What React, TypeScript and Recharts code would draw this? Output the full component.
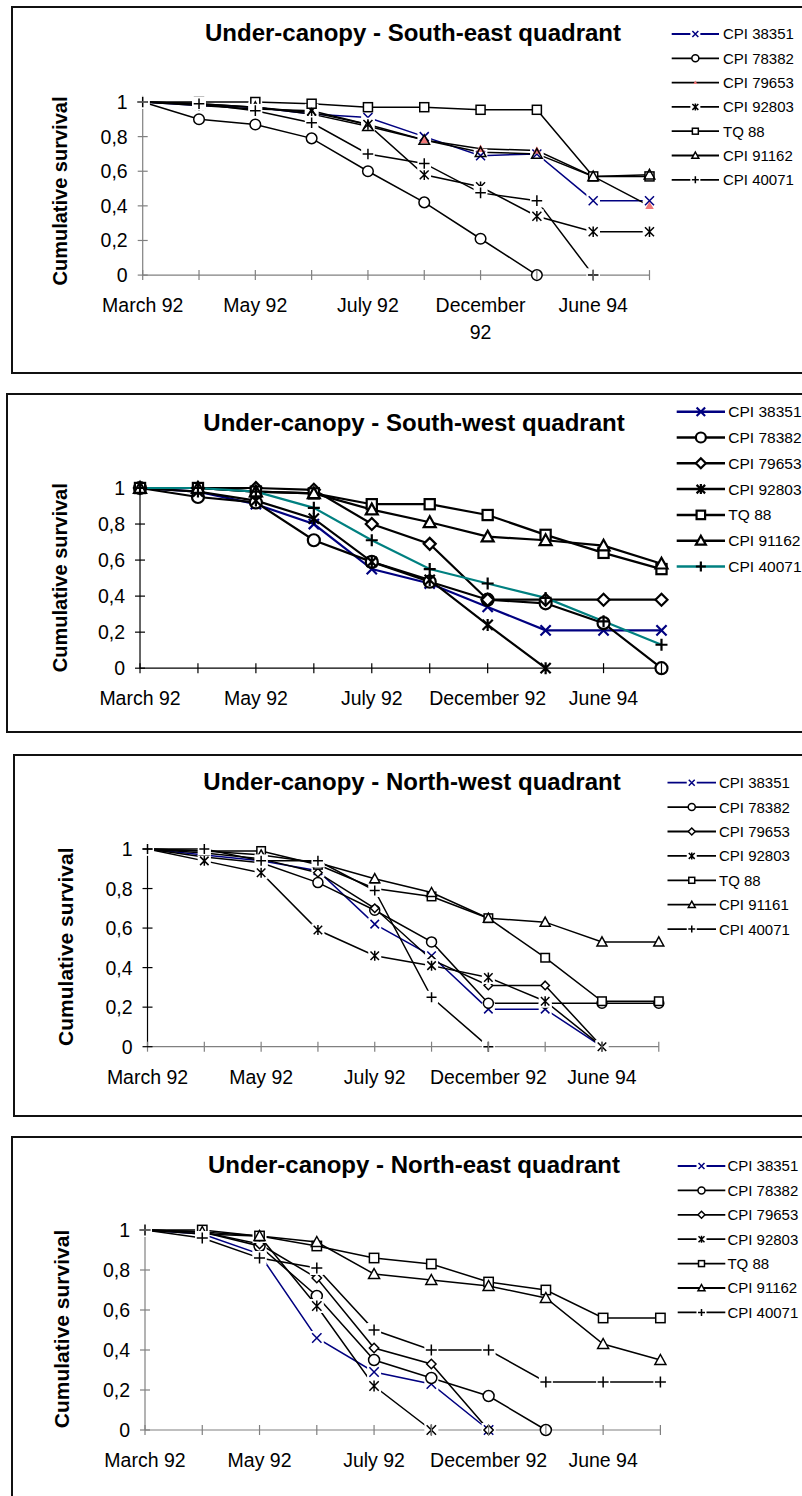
import React from "react";
import { LineChart, Line, XAxis, YAxis } from "recharts";

const FONT = '"Liberation Sans", Arial, Helvetica, sans-serif';

// Sampling dates (only every other one is labelled on the axis)
const periodLabels = ["March 92", "", "May 92", "", "July 92", "", "December 92", "", "June 94", ""];
const yTicks = [0, 0.2, 0.4, 0.6, 0.8, 1];

const seriesNames = ["CPI 38351", "CPI 78382", "CPI 79653", "CPI 92803", "TQ 88", "CPI 91162", "CPI 40071"];
const nwSeriesNames = ["CPI 38351", "CPI 78382", "CPI 79653", "CPI 92803", "TQ 88", "CPI 91161", "CPI 40071"];

// South-east quadrant
const seCpi38351 = [1, 0.98, 0.97, 0.93, 0.91, 0.8, 0.69, 0.7, 0.43, 0.43];
const seCpi78382 = [1, 0.9, 0.87, 0.79, 0.6, 0.42, 0.21, 0, null, null];
const seCpi79653 = [1, 0.99, 0.97, 0.94, 0.87, 0.78, 0.73, 0.72, 0.57, 0.4];
const seCpi92803 = [1, 0.98, 0.96, 0.95, 0.87, 0.58, 0.51, 0.34, 0.25, 0.25];
const seTq88 = [1, 1, 1, 0.99, 0.97, 0.97, 0.955, 0.955, 0.57, 0.57];
const seCpi91162 = [1, 0.99, 0.97, 0.93, 0.86, 0.78, 0.71, 0.7, 0.57, 0.58];
const seCpi40071 = [1, 0.99, 0.95, 0.88, 0.7, 0.645, 0.475, 0.43, 0, null];

// South-west quadrant
const swCpi38351 = [1, 0.98, 0.91, 0.8, 0.55, 0.47, 0.34, 0.21, 0.21, 0.21];
const swCpi78382 = [1, 0.95, 0.92, 0.71, 0.59, 0.48, 0.38, 0.36, 0.25, 0];
const swCpi79653 = [1, 1, 1, 0.99, 0.8, 0.69, 0.38, 0.38, 0.38, 0.38];
const swCpi92803 = [1, 0.98, 0.93, 0.83, 0.59, 0.49, 0.24, 0, null, null];
const swTq88 = [1, 1, 0.98, 0.97, 0.91, 0.91, 0.85, 0.74, 0.64, 0.55];
const swCpi91162 = [1, 1, 0.98, 0.97, 0.88, 0.81, 0.73, 0.71, 0.68, 0.58];
const swCpi40071 = [1, 1, 0.98, 0.89, 0.71, 0.55, 0.47, 0.39, 0.26, 0.13];

// North-west quadrant
const nwCpi38351 = [1, 0.97, 0.94, 0.89, 0.62, 0.46, 0.19, 0.19, 0, null];
const nwCpi78382 = [1, 0.96, 0.93, 0.83, 0.69, 0.53, 0.22, 0.22, 0.22, 0.22];
const nwCpi79653 = [1, 0.98, 0.95, 0.88, 0.7, 0.44, 0.31, 0.31, 0, null];
const nwCpi92803 = [1, 0.94, 0.88, 0.59, 0.46, 0.41, 0.35, 0.23, 0, null];
const nwTq88 = [1, 0.99, 0.99, 0.92, 0.8, 0.76, 0.65, 0.45, 0.23, 0.23];
const nwCpi91161 = [1, 0.99, 0.97, 0.93, 0.85, 0.78, 0.65, 0.63, 0.53, 0.53];
const nwCpi40071 = [1, 1, 0.94, 0.94, 0.79, 0.25, 0, null, null, null];

// North-east quadrant
const neCpi38351 = [1, 0.98, 0.88, 0.46, 0.29, 0.23, 0, null, null, null];
const neCpi78382 = [1, 0.99, 0.92, 0.67, 0.35, 0.26, 0.17, 0, null, null];
const neCpi79653 = [1, 0.99, 0.93, 0.76, 0.41, 0.33, 0, null, null, null];
const neCpi92803 = [1, 0.98, 0.97, 0.62, 0.22, 0, null, null, null, null];
const neTq88 = [1, 1, 0.97, 0.92, 0.86, 0.83, 0.74, 0.7, 0.56, 0.56];
const neCpi91162 = [1, 0.99, 0.97, 0.94, 0.78, 0.75, 0.72, 0.66, 0.43, 0.35];
const neCpi40071 = [1, 0.96, 0.86, 0.81, 0.5, 0.4, 0.4, 0.24, 0.24, 0.24];

type MarkerKind = "x" | "circle" | "diamond" | "star" | "square" | "triangle" | "plus" | "redtri";

interface SeriesStyle {
  stroke: string
  marker: MarkerKind
  markerColor: string
}

const NAVY = "#000080";
const TEAL = "#008080";
const SALMON = "#f07878";

const baseStyles: SeriesStyle[] = [
  { stroke: NAVY, marker: "x", markerColor: NAVY },
  { stroke: "#000", marker: "circle", markerColor: "#000" },
  { stroke: "#000", marker: "diamond", markerColor: "#000" },
  { stroke: "#000", marker: "star", markerColor: "#000" },
  { stroke: "#000", marker: "square", markerColor: "#000" },
  { stroke: "#000", marker: "triangle", markerColor: "#000" },
  { stroke: "#000", marker: "plus", markerColor: "#000" },
];

const seStyles = baseStyles.map((s, i) => (i === 2 ? { ...s, marker: "redtri" as MarkerKind, markerColor: SALMON } : s));
const swStyles = baseStyles.map((s, i) => (i === 6 ? { ...s, stroke: TEAL } : s));

interface ChartCfg {
  title: string
  titleX: number
  titleY: number
  yLabelX: number
  yLabelY: number
  yLabelSize: number
  box: { left: number; top: number; bottom: number }
  plot: { left: number; right: number; top: number; bottom: number }
  names: string[]
  values: (number | null)[][]
  styles: SeriesStyle[]
  lw: number
  r: number
  halo: boolean
  triFill: string
  axisXColor: string
  axisYColor: string
  wrapLabels: boolean
  legend: { x1: number; x2: number; tx: number; y0: number; dy: number; size: number; r: number }
}

const charts: ChartCfg[] = [
  {
    title: "Under-canopy - South-east quadrant",
    titleX: 413, titleY: 41,
    yLabelX: 66.5, yLabelY: 191, yLabelSize: 20,
    box: { left: 11, top: 6, bottom: 374 },
    plot: { left: 142.7, right: 649.5, top: 101.7, bottom: 274.8 },
    names: seriesNames,
    values: [seCpi38351, seCpi78382, seCpi79653, seCpi92803, seTq88, seCpi91162, seCpi40071],
    styles: seStyles,
    lw: 1.5, r: 5.3, halo: true, triFill: "none",
    axisXColor: "#808080", axisYColor: "#808080", wrapLabels: true,
    legend: { x1: 671.7, x2: 719, tx: 723, y0: 34, dy: 24.3, size: 15, r: 3.5 },
  },
  {
    title: "Under-canopy - South-west quadrant",
    titleX: 414, titleY: 431,
    yLabelX: 66.5, yLabelY: 577.7, yLabelSize: 20,
    box: { left: 6, top: 392.7, bottom: 733.3 },
    plot: { left: 140, right: 661.5, top: 488.3, bottom: 668.5 },
    names: seriesNames,
    values: [swCpi38351, swCpi78382, swCpi79653, swCpi92803, swTq88, swCpi91162, swCpi40071],
    styles: swStyles,
    lw: 2.2, r: 6, halo: false, triFill: "#fff",
    axisXColor: "#000", axisYColor: "#000", wrapLabels: false,
    legend: { x1: 676.7, x2: 725, tx: 728.3, y0: 411.7, dy: 25.8, size: 15.5, r: 5 },
  },
  {
    title: "Under-canopy - North-west quadrant",
    titleX: 412, titleY: 790,
    yLabelX: 72.6, yLabelY: 946.7, yLabelSize: 21,
    box: { left: 12.8, top: 754, bottom: 1117.3 },
    plot: { left: 147.5, right: 658.8, top: 849.3, bottom: 1047 },
    names: nwSeriesNames,
    values: [nwCpi38351, nwCpi78382, nwCpi79653, nwCpi92803, nwTq88, nwCpi91161, nwCpi40071],
    styles: baseStyles,
    lw: 1.5, r: 5, halo: true, triFill: "#fff",
    axisXColor: "#808080", axisYColor: "#000", wrapLabels: false,
    legend: { x1: 667.5, x2: 716, tx: 719, y0: 782.7, dy: 24.4, size: 15, r: 3.5 },
  },
  {
    title: "Under-canopy - North-east quadrant",
    titleX: 414, titleY: 1173,
    yLabelX: 69, yLabelY: 1329, yLabelSize: 21,
    box: { left: 11.3, top: 1136, bottom: 1530 },
    plot: { left: 145, right: 660.4, top: 1230, bottom: 1430 },
    names: seriesNames,
    values: [neCpi38351, neCpi78382, neCpi79653, neCpi92803, neTq88, neCpi91162, neCpi40071],
    styles: baseStyles,
    lw: 1.5, r: 5.5, halo: true, triFill: "#fff",
    axisXColor: "#808080", axisYColor: "#808080", wrapLabels: false,
    legend: { x1: 677.7, x2: 725.3, tx: 727.4, y0: 1166, dy: 24.4, size: 15, r: 3.5 },
  },
];

interface MarkerProps {
  kind: MarkerKind
  cx: number
  cy: number
  r: number
  color: string
  halo: boolean
  sw: number
  triFill: string
}

function Marker({ kind, cx, cy, r, color, halo, sw, triFill }: MarkerProps) {
  const bg =
    halo && (kind === "x" || kind === "star" || kind === "plus") ? (
      <rect x={cx - r - 1.5} y={cy - r - 1.5} width={2 * r + 3} height={2 * r + 3} fill="#fff" />
    ) : null
  const k = r * 0.85
  switch (kind) {
    case "x":
      return (
        <g>
          {bg}
          <path d={`M${cx - k},${cy - k}L${cx + k},${cy + k}M${cx - k},${cy + k}L${cx + k},${cy - k}`} stroke={color} strokeWidth={sw} />
        </g>
      )
    case "star":
      return (
        <g>
          {bg}
          <path
            d={`M${cx - k},${cy - k}L${cx + k},${cy + k}M${cx - k},${cy + k}L${cx + k},${cy - k}M${cx},${cy - r}L${cx},${cy + r}`}
            stroke={color}
            strokeWidth={sw}
          />
        </g>
      )
    case "plus":
      return (
        <g>
          {bg}
          <path d={`M${cx - r},${cy}L${cx + r},${cy}M${cx},${cy - r}L${cx},${cy + r}`} stroke={color} strokeWidth={sw} />
        </g>
      )
    case "circle":
      return <circle cx={cx} cy={cy} r={r} fill="#fff" stroke={color} strokeWidth={sw} />
    case "square":
      return <rect x={cx - k} y={cy - k} width={2 * k} height={2 * k} fill="#fff" stroke={color} strokeWidth={sw} />
    case "diamond":
      return (
        <polygon
          points={`${cx},${cy - r} ${cx + r},${cy} ${cx},${cy + r} ${cx - r},${cy}`}
          fill="#fff"
          stroke={color}
          strokeWidth={sw}
        />
      )
    case "triangle":
      return (
        <polygon
          points={`${cx},${cy - r} ${cx + r},${cy + r * 0.8} ${cx - r},${cy + r * 0.8}`}
          fill={triFill}
          stroke={color}
          strokeWidth={sw}
        />
      )
    case "redtri":
      return <polygon points={`${cx},${cy - r * 0.8} ${cx + r * 0.8},${cy + r * 0.6} ${cx - r * 0.8},${cy + r * 0.6}`} fill={color} />
  }
  return null
}

function fmtY(v: number) {
  return String(v).replace(".", ",")
}

function Panel({ cfg }: { cfg: ChartCfg }) {
  const { plot } = cfg
  const yAxisW = 60
  const xAxisH = 50
  const chartTop = plot.top - 20
  const plotH = plot.bottom - plot.top
  const chartH = plotH + 20 + 75
  const axisY = plot.bottom - chartTop
  const axisX = plot.left

  const data = periodLabels.map((_, i) => {
    const row: Record<string, number | null> = { idx: i }
    cfg.values.forEach((vals, s) => {
      row[`s${s}`] = vals[i]
    })
    return row
  })

  const xTick = (p: any) => {
    const label = periodLabels[p.payload.value]
    const x = p.x
    const wrap = cfg.wrapLabels && label.length > 9
    const base = axisY + 37
    return (
      <g>
        <line x1={x} x2={x} y1={axisY - 5} y2={axisY + 5} stroke={cfg.axisXColor} strokeWidth={1.2} />
        {label && !wrap && (
          <text x={x} y={base} textAnchor="middle" fontFamily={FONT} fontSize={19.5} fill="#000">
            {label}
          </text>
        )}
        {label && wrap && (
          <text x={x} y={base} textAnchor="middle" fontFamily={FONT} fontSize={19.5} fill="#000">
            <tspan x={x}>{label.split(" ")[0]}</tspan>
            <tspan x={x} dy={27}>{label.split(" ")[1]}</tspan>
          </text>
        )}
      </g>
    )
  }

  const yTick = (p: any) => {
    const y = p.y
    return (
      <g>
        <line x1={axisX - 5} x2={axisX + 5} y1={y} y2={y} stroke={cfg.axisYColor} strokeWidth={1.2} />
        <text x={axisX - 15} y={y + 7} textAnchor="end" fontFamily={FONT} fontSize={19.5} fill="#000">
          {fmtY(p.payload.value)}
        </text>
      </g>
    )
  }

  const makeDot = (st: SeriesStyle, s: number) => (p: any) => {
    const key = `dot-${s}-${p.index}`
    if (p.cx == null || p.cy == null || p.value == null) return <g key={key} />
    return (
      <Marker
        key={key}
        kind={st.marker}
        cx={p.cx}
        cy={p.cy}
        r={st.marker === "diamond" && cfg.r < 6 ? cfg.r * 0.85 : cfg.r}
        color={st.markerColor}
        halo={cfg.halo}
        sw={cfg.lw}
        triFill={cfg.triFill}
      />
    )
  }

  const lg = cfg.legend
  const mid = (lg.x1 + lg.x2) / 2

  return (
    <>
      <div
        style={{
          position: "absolute",
          left: cfg.box.left,
          top: cfg.box.top,
          width: 900,
          height: cfg.box.bottom - cfg.box.top,
          border: "2px solid #111",
          boxSizing: "border-box",
        }}
      />
      <div style={{ position: "absolute", left: 0, top: chartTop }}>
        <LineChart
          width={802}
          height={chartH}
          data={data}
          margin={{ top: 20, right: 802 - plot.right, left: plot.left - yAxisW, bottom: chartH - 20 - plotH - xAxisH }}
        >
          <XAxis
            dataKey="idx"
            type="category"
            height={xAxisH}
            interval={0}
            tickLine={false}
            axisLine={{ stroke: cfg.axisXColor, strokeWidth: 1.2 }}
            tick={xTick}
            padding={{ left: 0, right: 0 }}
          />
          <YAxis
            width={yAxisW}
            domain={[0, 1]}
            ticks={yTicks}
            type="number"
            interval={0}
            tickLine={false}
            axisLine={{ stroke: cfg.axisYColor, strokeWidth: 1.2 }}
            tick={yTick}
          />
          {cfg.styles.map((st, s) => (
            <Line
              key={s}
              type="linear"
              dataKey={`s${s}`}
              name={cfg.names[s]}
              stroke={st.stroke}
              strokeWidth={cfg.lw}
              dot={makeDot(st, s)}
              activeDot={false}
              isAnimationActive={false}
              connectNulls={false}
            />
          ))}
        </LineChart>
      </div>
      <svg
        width={802}
        height={1496}
        style={{ position: "absolute", left: 0, top: 0, pointerEvents: "none" }}
      >
        <text x={cfg.titleX} y={cfg.titleY} textAnchor="middle" fontFamily={FONT} fontWeight="bold" fontSize={24} fill="#000">
          {cfg.title}
        </text>
        <text
          transform={`translate(${cfg.yLabelX},${cfg.yLabelY}) rotate(-90)`}
          textAnchor="middle"
          fontFamily={FONT}
          fontWeight="bold"
          fontSize={cfg.yLabelSize}
          fill="#000"
        >
          Cumulative survival
        </text>
        {cfg.names.map((name, s) => {
          const st = cfg.styles[s]
          const y = lg.y0 + s * lg.dy
          return (
            <g key={name}>
              <line x1={lg.x1} x2={lg.x2} y1={y} y2={y} stroke={st.stroke} strokeWidth={cfg.lw + 0.3} />
              <Marker
                kind={st.marker}
                cx={mid}
                cy={y}
                r={st.marker === "redtri" ? 2.5 : lg.r}
                color={st.markerColor}
                halo={cfg.halo}
                sw={cfg.lw}
                triFill="#fff"
              />
              <text x={lg.tx} y={y + lg.size * 0.36} fontFamily={FONT} fontSize={lg.size} fill="#000">
                {name}
              </text>
            </g>
          )
        })}
      </svg>
    </>
  )
}

export default function App() {
  return (
    <div
      style={{
        position: "absolute",
        left: 0,
        top: 0,
        width: 802,
        height: 1496,
        overflow: "hidden",
        background: "#fff",
      }}
    >
      {charts.map((c) => (
        <Panel key={c.title} cfg={c} />
      ))}
    </div>
  )
}
